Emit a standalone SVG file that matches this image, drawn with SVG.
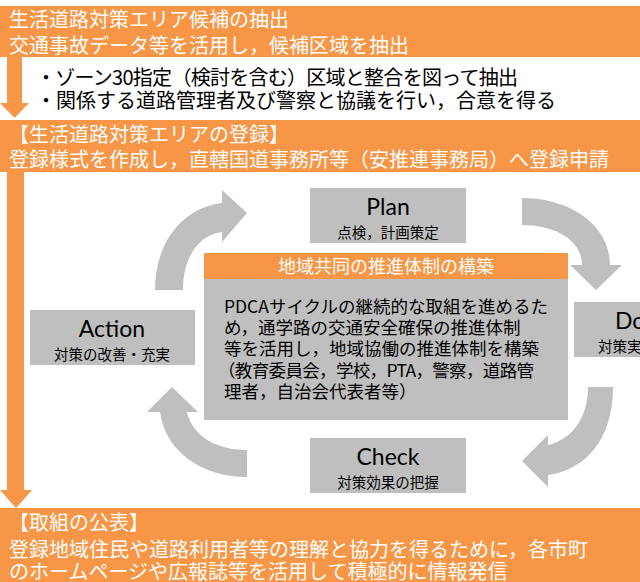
<svg xmlns="http://www.w3.org/2000/svg" width="640" height="582" viewBox="0 0 640 582">
<style>
.org{fill:#F79646}
.gry{fill:#BFBFBF}
.jp{font-family:"Noto Sans CJK JP","Noto Sans",sans-serif}
.wt{fill:#FFFFFF;font-size:20px}
.bk{fill:#000000}
.bul{font-size:20px}
.ttl{font-family:Lato,"Noto Sans","Noto Sans CJK JP",sans-serif;font-size:23px;fill:#000;text-anchor:middle}
.sub{font-size:14.5px;text-anchor:middle}
.body{font-size:17.5px}
</style>
<rect width="640" height="582" fill="#FFFFFF"/>

<g id="connectors">
  <polygon class="org" points="7,57 22,57 22,103 29,103 14.5,118 0,103 7,103"/>
  <polygon class="org" points="7,172 24,172 24,490 32,490 16,508 0,490 7,490"/>
  <path class="gry" d="M155,290 C155,240 185,207 222,203 L222,190 L247,213 L222,242 L222,232 C198,235 183,258 183,290 Z"/>
  <path class="gry" d="M522,198 C570,198 610,225 610,265 L622,265 L596,290 L570,265 L582,265 C582,240 555,225 522,225 Z"/>
  <path class="gry" d="M613,387 C613,440 585,470 548,475 L548,487 L522,461 L548,435 L548,445 C570,440 588,420 588,387 Z"/>
  <path class="gry" d="M247,477 C200,477 165,450 160,412 L147,412 L172,387 L198,412 L187,412 C192,435 215,450 247,450 Z"/>
</g>

<g id="extract">
  <rect class="org" x="0" y="6" width="640" height="51"/>
  <text class="jp wt" x="9" y="27">生活道路対策エリア候補の抽出</text>
  <text class="jp wt" x="9" y="53">交通事故データ等を活用し，候補区域を抽出</text>
</g>

<g id="extract-notes">
  <text class="jp bk bul" x="36" y="85" textLength="482" lengthAdjust="spacing">・ゾーン30指定（検討を含む）区域と整合を図って抽出</text>
  <text class="jp bk bul" x="36" y="108">・関係する道路管理者及び警察と協議を行い，合意を得る</text>
</g>

<g id="register">
  <rect class="org" x="0" y="120" width="640" height="52"/>
  <text class="jp wt" x="9" y="142">【生活道路対策エリアの登録】</text>
  <text class="jp wt" x="9" y="167">登録様式を作成し，直轄国道事務所等（安推連事務局）へ登録申請</text>
</g>

<g id="plan">
  <rect class="gry" x="310" y="188" width="156" height="55"/>
  <text class="ttl" x="388" y="215">Plan</text>
  <text class="jp bk sub" x="388" y="238">点検，計画策定</text>
</g>

<g id="do">
  <rect class="gry" x="574" y="302" width="120" height="55"/>
  <text class="ttl" x="615" y="329" style="text-anchor:start">Do</text>
  <text class="jp bk" x="598" y="352" style="font-size:14.5px">対策実</text>
</g>

<g id="check">
  <rect class="gry" x="310" y="438" width="156" height="55"/>
  <text class="ttl" x="388" y="465">Check</text>
  <text class="jp bk sub" x="388" y="488">対策効果の把握</text>
</g>

<g id="action">
  <rect class="gry" x="30" y="310" width="165" height="55"/>
  <text class="ttl" x="112" y="337">Action</text>
  <text class="jp bk sub" x="112" y="360">対策の改善・充実</text>
</g>

<g id="system">
  <rect class="org" x="204" y="253" width="364" height="26"/>
  <text class="jp wt" x="386" y="273" style="font-size:18px;text-anchor:middle">地域共同の推進体制の構築</text>
  <rect class="gry" x="204" y="279" width="364" height="141"/>
  <text class="jp bk body" x="224" y="313">PDCAサイクルの継続的な取組を進めるた</text>
  <text class="jp bk body" x="224" y="334">め，通学路の交通安全確保の推進体制</text>
  <text class="jp bk body" x="224" y="355">等を活用し，地域協働の推進体制を構築</text>
  <text class="jp bk body" x="218" y="377" textLength="316" lengthAdjust="spacing">（教育委員会，学校，PTA，警察，道路管</text>
  <text class="jp bk body" x="224" y="398">理者，自治会代表者等）</text>
</g>

<g id="publish">
  <rect class="org" x="0" y="508" width="640" height="74"/>
  <text class="jp wt" x="9" y="530">【取組の公表】</text>
  <text class="jp wt" x="9" y="557">登録地域住民や道路利用者等の理解と協力を得るために，各市町</text>
  <text class="jp wt" x="9" y="579">のホームページや広報誌等を活用して積極的に情報発信</text>
</g>
</svg>
